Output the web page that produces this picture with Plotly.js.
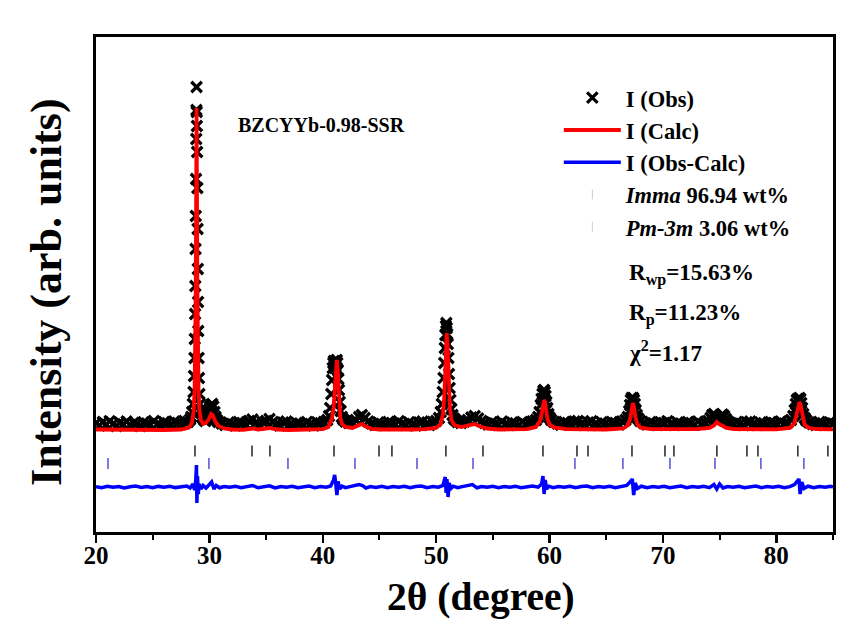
<!DOCTYPE html>
<html>
<head>
<meta charset="utf-8">
<script src="https://cdn.plot.ly/plotly-3.0.1.min.js"></script>
<style>html,body{margin:0;padding:0;background:#fff;}#chart{width:850px;height:621px;}</style>
</head>
<body>
<div id="chart"></div>
<script>
// Observed pattern [2theta, intensity]
const obsData = [
[20.0,410],[20.3,385],[20.6,420],[20.9,395],[21.2,428],[21.5,402],[21.8,380],[22.1,415],[22.4,398],[22.7,425],
[23.0,390],[23.3,412],[23.6,400],[23.9,378],[24.2,418],[24.5,405],[24.8,392],[25.1,430],[25.4,400],[25.7,385],
[26.0,420],[26.3,408],[26.6,395],[26.9,425],[27.2,410],[27.5,398],[27.8,430],[28.1,420],
[28.30,445],[28.40,470],[28.48,520],[28.54,600],[28.60,720],[28.64,880],[28.68,1060],[28.71,1250],[28.74,1500],
[28.76,1780],[28.78,2150],[28.80,2480],[28.82,2850],[28.84,3250],[28.855,3540],[28.87,3770],[28.885,3520],
[28.90,3380],[28.92,3120],[28.94,2760],[28.96,2350],[28.98,1950],[29.00,1620],[29.02,1330],[29.05,1060],
[29.08,860],[29.12,700],[29.17,600],[29.23,540],[29.30,510],[29.38,470],[29.46,455],[29.55,440],[29.65,430],
[29.75,450],[29.85,480],[29.95,530],[30.05,570],[30.15,590],[30.25,600],[30.35,575],[30.45,520],[30.55,470],
[30.65,440],[30.8,420],[31.1,405],[31.4,390],[31.7,415],[32.0,400],[32.3,385],[32.6,420],[32.9,410],[33.2,395],
[33.5,430],[33.8,445],[34.1,410],[34.4,395],[34.7,418],[35.0,430],[35.3,450],[35.6,420],[35.9,400],[36.2,385],
[36.5,415],[36.8,425],[37.1,398],[37.4,388],[37.7,412],[38.0,405],[38.3,392],[38.6,420],[38.9,400],[39.2,385],
[39.5,418],[39.8,408],[40.1,420],[40.4,440],
[40.55,480],[40.65,560],[40.75,700],[40.82,840],[40.88,960],[40.93,1010],[40.98,1030],[41.03,990],[41.08,960],
[41.13,980],[41.18,1020],[41.23,1040],[41.28,1010],[41.33,940],[41.38,850],[41.43,740],[41.5,620],[41.58,530],
[41.68,470],[41.8,445],[42.0,425],[42.3,410],[42.6,420],[42.9,440],[43.2,470],[43.45,490],[43.7,460],[44.0,425],
[44.3,405],[44.6,390],[44.9,415],[45.2,400],[45.5,388],[45.8,420],[46.1,410],[46.4,395],[46.7,428],[47.0,405],
[47.3,390],[47.6,418],[47.9,400],[48.2,385],[48.5,415],[48.8,425],[49.1,400],[49.4,390],[49.7,420],[50.0,430],
[50.25,460],[50.4,520],[50.5,600],[50.58,720],[50.65,860],[50.71,1010],[50.76,1160],[50.81,1290],[50.86,1380],
[50.9,1410],[50.94,1360],[50.98,1300],[51.03,1200],[51.08,1060],[51.13,900],[51.19,760],[51.26,640],[51.34,550],
[51.44,490],[51.56,455],[51.7,440],[51.9,420],[52.2,410],[52.5,425],[52.8,440],[53.1,465],[53.4,480],[53.7,455],
[54.0,430],[54.3,410],[54.6,395],[54.9,418],[55.2,405],[55.5,390],[55.8,425],[56.1,400],[56.4,388],[56.7,415],
[57.0,408],[57.3,392],[57.6,420],[57.9,398],[58.2,412],[58.5,425],[58.8,440],[59.0,470],
[59.12,520],[59.22,590],[59.3,650],[59.38,700],[59.45,730],[59.52,740],[59.58,720],[59.65,680],[59.72,620],
[59.8,560],[59.9,500],[60.0,465],[60.15,440],[60.4,420],[60.7,405],[61.0,392],[61.3,420],[61.6,410],[61.9,398],
[62.2,425],[62.5,430],[62.8,405],[63.1,390],[63.4,415],[63.7,428],[64.0,400],[64.3,388],[64.6,418],[64.9,405],
[65.2,392],[65.5,420],[65.8,410],[66.1,395],[66.4,425],[66.7,440],[66.9,470],
[67.02,530],[67.1,590],[67.17,640],[67.24,660],[67.31,650],[67.38,660],[67.45,640],[67.52,600],[67.6,540],
[67.7,490],[67.82,455],[68.0,430],[68.3,410],[68.6,395],[68.9,420],[69.2,405],[69.5,390],[69.8,418],[70.1,410],
[70.4,428],[70.7,400],[71.0,390],[71.3,415],[71.6,405],[71.9,395],[72.2,420],[72.5,410],[72.8,392],[73.1,425],
[73.4,400],[73.7,415],[74.0,430],[74.2,460],[74.35,490],[74.5,500],[74.65,470],[74.8,450],[74.95,460],[75.1,480],
[75.25,495],[75.4,480],[75.55,450],[75.7,425],[75.9,410],[76.2,398],[76.5,420],[76.8,405],[77.1,390],[77.4,418],
[77.7,425],[78.0,400],[78.3,388],[78.6,415],[78.9,408],[79.2,395],[79.5,422],[79.8,410],[80.1,398],[80.4,425],
[80.7,405],[81.0,415],[81.3,440],[81.5,480],[81.62,540],[81.72,600],[81.8,640],[81.88,650],[81.96,640],
[82.04,660],[82.12,650],[82.2,610],[82.28,560],[82.38,500],[82.5,460],[82.65,435],[82.9,415],[83.2,400],
[83.5,390],[83.8,420],[84.1,408],[84.4,395],[84.7,418],[85.0,405]
];
// Calculated profile [2theta, intensity]
const calcData = [
[20.0,345],[22,342],[24,340],[26,340],[27.5,345],[28.2,365],[28.45,410],[28.6,520],[28.7,760],[28.76,1200],
[28.8,1800],[28.83,2600],[28.855,3250],[28.87,3560],[28.885,3300],[28.91,2600],[28.94,1800],[28.98,1200],
[29.04,760],[29.12,540],[29.25,440],[29.45,400],[29.7,410],[29.95,450],[30.15,500],[30.3,490],[30.5,430],
[30.8,380],[31.3,355],[32,345],[33,342],[33.8,355],[34.3,345],[35.3,360],[36,345],[37,340],[38,340],[39,342],
[40,348],[40.5,370],[40.8,450],[40.95,560],[41.05,700],[41.12,860],[41.18,1000],[41.24,1040],[41.3,980],
[41.37,800],[41.45,600],[41.55,460],[41.7,400],[42,370],[42.6,360],[43.1,380],[43.45,400],[43.8,375],[44.3,352],
[45,345],[46,342],[47,342],[48,345],[49,348],[50,360],[50.4,400],[50.6,500],[50.72,680],[50.8,900],[50.87,1150],
[50.93,1310],[50.99,1230],[51.05,1000],[51.13,740],[51.22,550],[51.35,440],[51.6,390],[52.2,370],[52.9,385],
[53.4,400],[53.9,375],[54.5,355],[55.5,345],[57,342],[58,348],[58.8,370],[59.15,430],[59.3,500],[59.42,580],
[59.52,640],[59.6,620],[59.7,540],[59.82,450],[60,395],[60.4,365],[61.5,348],[63,345],[65,345],[66.5,355],
[66.9,385],[67.1,450],[67.25,550],[67.35,610],[67.45,570],[67.57,470],[67.75,395],[68.1,360],[69,348],[71,345],
[73,348],[74.1,360],[74.5,385],[74.75,420],[75.0,395],[75.3,380],[75.6,360],[76.3,348],[78,345],[80,347],
[81.2,360],[81.6,410],[81.82,510],[81.95,590],[82.05,620],[82.15,590],[82.3,480],[82.48,400],[82.8,365],
[83.5,350],[85,347]
];
// Difference curve (offset) [2theta, intensity]
const diffData = [
[20,-228],[20.5,-238],[21,-222],[21.5,-232],[22,-225],[22.5,-240],[23,-228],[23.5,-220],[24,-235],[24.5,-226],
[25,-238],[25.5,-224],[26,-232],[26.5,-222],[27,-236],[27.5,-228],[28,-220],[28.3,-240],[28.55,-200],[28.7,-260],
[28.8,-160],[28.86,-10],[28.9,-390],[28.95,-120],[29.02,-300],[29.1,-200],[29.25,-250],[29.45,-215],[29.7,-240],
[30.0,-205],[30.2,-180],[30.4,-250],[30.6,-215],[30.9,-238],[31.3,-225],[31.8,-232],[32.3,-222],[32.8,-236],
[33.3,-226],[33.8,-215],[34.3,-238],[34.8,-225],[35.3,-218],[35.8,-240],[36.3,-226],[36.8,-232],[37.3,-222],
[37.8,-238],[38.3,-228],[38.8,-220],[39.3,-236],[39.8,-226],[40.3,-232],[40.7,-220],[40.95,-160],[41.05,-110],
[41.15,-200],[41.25,-310],[41.35,-175],[41.5,-250],[41.7,-222],[42.0,-236],[42.4,-226],[42.8,-218],[43.2,-205],
[43.5,-215],[43.8,-240],[44.2,-226],[44.7,-234],[45.2,-222],[45.7,-236],[46.2,-226],[46.7,-232],[47.2,-222],
[47.7,-238],[48.2,-226],[48.7,-220],[49.2,-236],[49.7,-226],[50.2,-232],[50.6,-215],[50.8,-130],[50.88,-290],
[50.95,-150],[51.05,-330],[51.15,-190],[51.3,-245],[51.5,-222],[51.9,-236],[52.3,-226],[52.8,-215],[53.2,-205],
[53.6,-238],[54.0,-226],[54.5,-232],[55.0,-222],[55.5,-236],[56.0,-226],[56.5,-232],[57.0,-222],[57.5,-238],
[58.0,-226],[58.5,-220],[59.0,-232],[59.3,-200],[59.42,-120],[59.52,-300],[59.62,-160],[59.75,-250],[59.95,-222],
[60.3,-236],[60.8,-226],[61.3,-232],[61.8,-222],[62.3,-238],[62.8,-226],[63.3,-220],[63.8,-236],[64.3,-226],
[64.8,-232],[65.3,-222],[65.8,-236],[66.3,-226],[66.8,-215],[67.1,-180],[67.3,-150],[67.42,-310],[67.55,-190],
[67.75,-245],[68.1,-222],[68.6,-236],[69.1,-226],[69.6,-232],[70.1,-222],[70.6,-238],[71.1,-226],[71.6,-220],
[72.1,-236],[72.6,-226],[73.1,-232],[73.6,-222],[74.1,-236],[74.5,-205],[74.75,-250],[75.0,-200],[75.3,-240],
[75.7,-226],[76.2,-232],[76.7,-222],[77.2,-238],[77.7,-226],[78.2,-220],[78.7,-236],[79.2,-226],[79.7,-232],
[80.2,-222],[80.7,-238],[81.2,-226],[81.6,-205],[81.85,-170],[82.0,-150],[82.1,-300],[82.25,-180],[82.45,-245],
[82.8,-222],[83.3,-236],[83.8,-226],[84.3,-232],[84.8,-222],[85,-230]
];
// Bragg reflection positions
const immaPos = [28.73,33.76,35.34,40.99,44.96,46.10,50.86,54.13,59.42,62.42,63.39,67.27,70.18,70.97,74.76,77.41,78.38,81.90,84.55];
const pm3mPos = [21.06,29.96,36.93,42.84,48.31,53.25,62.24,66.47,70.62,74.59,78.64,82.43];
const immaLevel = 130;
const pm3mLevel = 5;

const legendNames = ['I (Obs)','I (Calc)','I (Obs-Calc)','<i>Imma</i> 96.94 wt%','<i>Pm-3m</i> 3.06 wt%'];
const annoText = ['BZCYYb-0.98-SSR','R<sub>wp</sub>=15.63%','R<sub>p</sub>=11.23%','χ<sup>2</sup>=1.17'];
const xTitle = '2θ (degree)';
const yTitle = 'Intensity (arb. units)';
const xTickVals = [20,30,40,50,60,70,80];

const FONT = 'Liberation Serif, Times New Roman, serif';

const traces = [
  {x: obsData.map(d=>d[0]), y: obsData.map(d=>d[1]), type:'scatter', mode:'markers', name: legendNames[0],
   marker:{symbol:'x-thin', size:10.5, color:'black', line:{width:3.2, color:'black'}}},
  {x: calcData.map(d=>d[0]), y: calcData.map(d=>d[1]), type:'scatter', mode:'lines', name: legendNames[1],
   line:{color:'#ff0000', width:3.8}},
  {x: diffData.map(d=>d[0]), y: diffData.map(d=>d[1]), type:'scatter', mode:'lines', name: legendNames[2],
   line:{color:'#0000ff', width:3.5}},
  {x: immaPos, y: immaPos.map(()=>immaLevel), type:'scatter', mode:'markers', showlegend:false,
   marker:{symbol:'line-ns', size:8, line:{width:1.5, color:'#222222'}}},
  {x: pm3mPos, y: pm3mPos.map(()=>pm3mLevel), type:'scatter', mode:'markers', showlegend:false,
   marker:{symbol:'line-ns', size:8, line:{width:1.5, color:'#5050d8'}}},
  {x:[null], y:[null], type:'scatter', mode:'markers', name: legendNames[3],
   marker:{symbol:'line-ns', size:7, line:{width:1, color:'#c8c8d0'}}},
  {x:[null], y:[null], type:'scatter', mode:'markers', name: legendNames[4],
   marker:{symbol:'line-ns', size:7, line:{width:1, color:'#c8c8d0'}}}
];

const layout = {
  width:850, height:621,
  margin:{l:96, r:17, t:37, b:89},
  paper_bgcolor:'#fff', plot_bgcolor:'#fff',
  showlegend:true,
  legend:{x:0.628, y:0.92, xanchor:'left', yanchor:'top', bgcolor:'rgba(0,0,0,0)', borderwidth:0,
    font:{family:FONT, size:22.5, color:'black', weight:'bold'}, tracegroupgap:0, itemwidth:57},
  xaxis:{range:[20,85], tickvals:xTickVals, ticks:'outside', ticklen:8, tickwidth:2.5, tickcolor:'black',
    minor:{dtick:5, ticks:'outside', ticklen:5, tickwidth:2, tickcolor:'black', showgrid:false},
    showgrid:false, zeroline:false, showline:true, linewidth:3, linecolor:'black', mirror:true,
    ticklabelstandoff:-9,
    tickfont:{family:FONT, size:25, color:'black', weight:'bold'}},
  yaxis:{range:[-680,4270], showticklabels:false, ticks:'', showgrid:false, zeroline:false,
    showline:true, linewidth:3, linecolor:'black', mirror:true},
  annotations:[
    {xref:'paper', yref:'paper', x:0.522, y:-0.1798, xanchor:'center', yanchor:'bottom', showarrow:false, text:xTitle,
     font:{family:FONT, size:39.5, color:'black', weight:'bold'}},
    {xref:'paper', yref:'paper', x:-0.0665, y:0.485, xanchor:'center', yanchor:'middle', textangle:-90, showarrow:false, text:yTitle,
     font:{family:FONT, size:44, color:'black', weight:'bold'}},
    {xref:'paper', yref:'paper', x:0.19, y:0.822, xanchor:'left', yanchor:'middle', showarrow:false, text:annoText[0],
     font:{family:FONT, size:20, color:'black', weight:'bold'}},
    {xref:'paper', yref:'paper', x:0.721, y:0.52, xanchor:'left', yanchor:'middle', showarrow:false, text:annoText[1],
     font:{family:FONT, size:23, color:'black', weight:'bold'}},
    {xref:'paper', yref:'paper', x:0.721, y:0.44, xanchor:'left', yanchor:'middle', showarrow:false, text:annoText[2],
     font:{family:FONT, size:23, color:'black', weight:'bold'}},
    {xref:'paper', yref:'paper', x:0.721, y:0.365, xanchor:'left', yanchor:'middle', showarrow:false, text:annoText[3],
     font:{family:FONT, size:23, color:'black', weight:'bold'}}
  ]
};

Plotly.newPlot('chart', traces, layout, {displayModeBar:false, staticPlot:true});
</script>
</body>
</html>
